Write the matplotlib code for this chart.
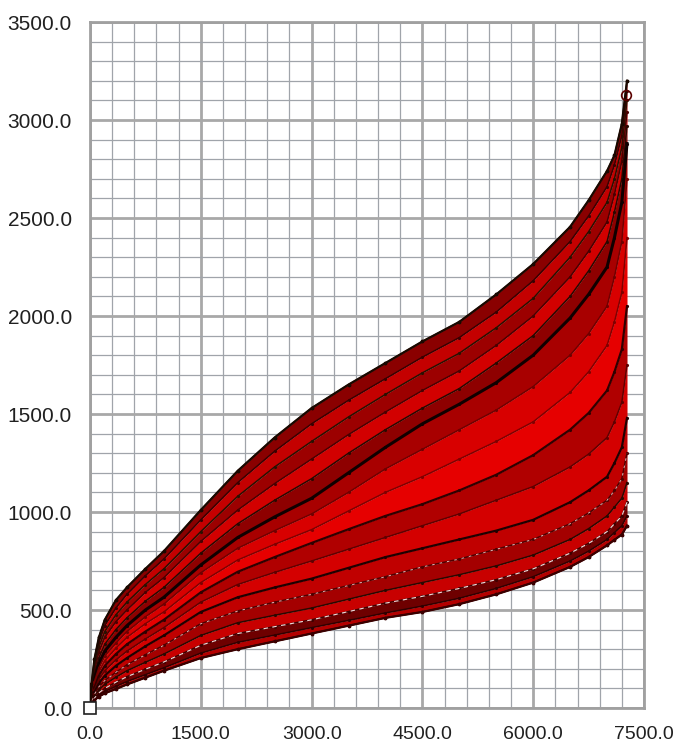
import numpy as np
import matplotlib
matplotlib.use("Agg")
import matplotlib.pyplot as plt
from matplotlib.ticker import MultipleLocator

plt.rcParams['font.family'] = ['Liberation Sans', 'DejaVu Sans']

xs = [0, 20, 60, 120, 200, 350, 500, 750, 1000, 1500, 2000, 2500, 3000, 3500,
      4000, 4500, 5000, 5500, 6000, 6500, 6750, 7000, 7100, 7200, 7270]

# curves, top to bottom
c01 = [0, 120, 250, 360, 450, 550, 615, 710, 800, 1010, 1210, 1380, 1530, 1650, 1760, 1870, 1970, 2110, 2265, 2455, 2590, 2740, 2820, 2980, 3200]
c02 = [0, 110, 230, 335, 420, 510, 580, 675, 760, 960, 1150, 1310, 1450, 1570, 1680, 1790, 1890, 2020, 2180, 2380, 2510, 2660, 2770, 2920, 3150]
c03 = [0, 100, 210, 310, 390, 475, 540, 630, 710, 900, 1080, 1230, 1360, 1485, 1600, 1710, 1810, 1940, 2090, 2300, 2430, 2580, 2700, 2860, 3100]
c04 = [0, 90, 190, 285, 360, 440, 500, 590, 665, 850, 1010, 1145, 1270, 1395, 1510, 1620, 1720, 1850, 2000, 2200, 2330, 2480, 2620, 2790, 3040]
c05 = [0, 80, 170, 255, 325, 400, 460, 545, 615, 790, 940, 1060, 1170, 1300, 1420, 1530, 1630, 1760, 1900, 2100, 2230, 2380, 2530, 2700, 2970]
c06 = [0, 70, 150, 225, 290, 360, 420, 500, 565, 730, 870, 975, 1070, 1200, 1330, 1450, 1550, 1660, 1800, 1990, 2110, 2250, 2400, 2580, 2880]
c07 = [0, 62, 135, 205, 265, 330, 390, 465, 530, 690, 815, 905, 990, 1100, 1220, 1320, 1420, 1520, 1640, 1800, 1910, 2050, 2200, 2380, 2700]
c08 = [0, 55, 120, 185, 240, 305, 360, 430, 490, 640, 755, 835, 910, 1005, 1100, 1180, 1270, 1360, 1460, 1610, 1715, 1850, 1970, 2120, 2400]
c09 = [0, 48, 105, 165, 215, 275, 325, 390, 450, 590, 695, 770, 842, 912, 980, 1040, 1110, 1190, 1290, 1420, 1505, 1620, 1715, 1830, 2050]
c10 = [0, 42, 90, 145, 190, 245, 290, 352, 410, 540, 630, 692, 750, 810, 870, 930, 990, 1060, 1130, 1230, 1295, 1380, 1460, 1560, 1750]
c11 = [0, 37, 80, 125, 165, 215, 255, 315, 370, 490, 565, 615, 660, 715, 770, 815, 860, 905, 960, 1050, 1110, 1180, 1250, 1330, 1480]
c12 = [0, 32, 70, 108, 140, 182, 220, 272, 320, 430, 495, 540, 580, 625, 670, 720, 760, 810, 860, 940, 995, 1060, 1110, 1170, 1300]
c13 = [0, 28, 60, 92, 120, 157, 190, 233, 275, 370, 435, 473, 510, 555, 600, 640, 680, 725, 780, 860, 915, 980, 1025, 1070, 1150]
c14 = [0, 23, 50, 77, 100, 132, 160, 198, 235, 320, 380, 415, 450, 492, 535, 570, 610, 655, 710, 790, 840, 900, 940, 980, 1050]
c15 = [0, 21, 45, 67, 85, 110, 135, 170, 205, 280, 335, 372, 410, 447, 485, 520, 560, 610, 670, 750, 800, 860, 895, 930, 980]
c16 = [0, 18, 40, 58, 75, 97, 120, 155, 190, 255, 300, 340, 380, 420, 460, 490, 530, 580, 640, 720, 770, 830, 858, 885, 930]

curves = [c01, c02, c03, c04, c05, c06, c07, c08, c09, c10, c11, c12, c13, c14, c15, c16]
band_colors = ['#8a0000', '#c40000', '#9c0000', '#d20000', '#8e0000', '#a80000',
               '#d80000', '#e60000', '#b00000', '#d40000', '#c00000', '#a40000',
               '#c80000', '#6e0000', '#b40000']
line_colors = ['#1a0800', '#3a0000', '#2a1000', '#4a0000', '#2a0800', '#100000',
               '#700000', '#800000', '#300000', '#600000', '#200000', '#500000',
               '#2a0800', '#400000', '#300000', '#1a0800']
line_widths = [1.1, 1.1, 1.1, 1.1, 1.1, 2.2, 1.1, 1.1, 1.6, 1.1, 1.6, 1.1, 1.1, 1.1, 1.1, 1.1]

fig = plt.figure(figsize=(6.78, 7.47), dpi=100)
ax = fig.add_axes([90/678, 39/747, 554/678, 686/747])

x = np.array(xs)
for i in range(len(curves) - 1):
    ax.fill_between(x, curves[i + 1], curves[i], color=band_colors[i], lw=0, zorder=2)
for c, lc, lw in zip(curves, line_colors, line_widths):
    ax.plot(x, c, color=lc, lw=lw, marker='.', ms=2.5, zorder=3)
# pale dashed streaks in the lower bundle
ax.plot(x, c14, color='#f4dcdc', lw=0.8, dashes=(4, 4), zorder=4)
ax.plot(x, c12, color='#f0c8c8', lw=0.6, dashes=(3, 6), zorder=4)
ax.plot(x, c01, color='#1a0800', lw=1.6, marker='.', ms=3.5, zorder=4)
ax.plot(x, c16, color='#3a0000', lw=1.6, marker='.', ms=3.5, zorder=4)

ax.plot([0], [0], marker='s', ms=9, mfc='white', mec='#202020', mew=1.2,
        clip_on=False, zorder=6, ls='none')
ax.plot([xs[-1] - 20], [3130], marker='o', ms=7, mfc='none', mec='#5a0000', mew=1.2,
        zorder=6, ls='none')

ax.set_xlim(0, 7500)
ax.set_ylim(0, 3500)
ax.xaxis.set_major_locator(MultipleLocator(1500))
ax.xaxis.set_minor_locator(MultipleLocator(300))
ax.yaxis.set_major_locator(MultipleLocator(500))
ax.yaxis.set_minor_locator(MultipleLocator(100))
ax.xaxis.set_major_formatter(lambda v, p: f"{v:.1f}")
ax.yaxis.set_major_formatter(lambda v, p: f"{v:.1f}")

ax.grid(which='major', color='#a8a8a8', lw=2.0, zorder=0)
ax.grid(which='minor', color='#a0a4aa', lw=0.9, zorder=0)
ax.set_axisbelow(True)
ax.tick_params(which='both', length=0)
ax.tick_params(axis='y', pad=13, labelsize=15, labelcolor='#202020')
ax.tick_params(axis='x', pad=13, labelsize=14, labelcolor='#202020')
for s in ax.spines.values():
    s.set_color('#a0a0a0')
    s.set_linewidth(2)

fig.savefig('out.png', dpi=100)
